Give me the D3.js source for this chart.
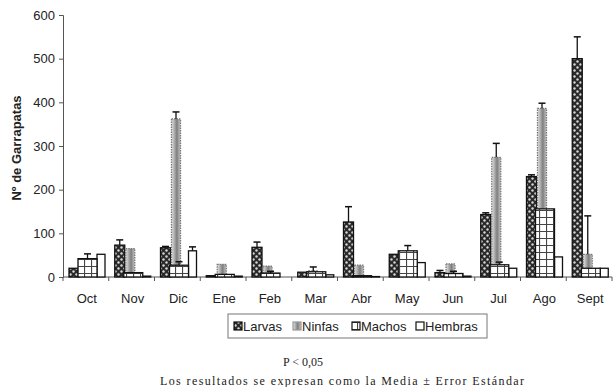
<!DOCTYPE html>
<html><head><meta charset="utf-8">
<script src="https://cdn.jsdelivr.net/npm/d3@7"></script>
<style>body{margin:0;background:#fff}svg{display:block}</style>
</head><body>
<svg id="c" width="613" height="387"></svg>
<script>
const months = ["Oct","Nov","Dic","Ene","Feb","Mar","Abr","May","Jun","Jul","Ago","Sept"];
const larvas     = [20, 73, 67, 3, 68, 11, 126, 52, 10, 143, 230, 500];
const larvasErr  = [0, 12, 3, 0, 12, 0, 35, 0, 5, 4, 4, 50];
const ninfas     = [0, 65, 362, 29, 25, 14, 27, 0, 30, 274, 386, 52];
const ninfasErr  = [0, 0, 16, 0, 0, 9, 0, 0, 0, 32, 12, 88];
const machos     = [42, 10, 27, 6, 9, 12, 3, 60, 8, 28, 156, 20];
const machosErr  = [11, 0, 8, 0, 4, 0, 0, 12, 5, 6, 0, 0];
const hembras    = [52, 2, 60, 2, 0, 5, 1, 33, 2, 20, 46, 20];
const hembrasErr = [0, 0, 9, 0, 0, 0, 0, 0, 0, 0, 0, 0];
const yTicks = [0,100,200,300,400,500,600];
const seriesNames = ["Larvas","Ninfas","Machos","Hembras"];

const svg = d3.select("#c");
const defs = svg.append("defs");
const pL = defs.append("pattern").attr("id","pL").attr("width",6).attr("height",6).attr("patternUnits","userSpaceOnUse");
pL.append("rect").attr("width",6).attr("height",6).attr("fill","#2a2a2a");
pL.append("circle").attr("cx",1.5).attr("cy",1.5).attr("r",1.2).attr("fill","#d8d8d8");
pL.append("circle").attr("cx",4.5).attr("cy",4.5).attr("r",1.2).attr("fill","#d8d8d8");
const gN = defs.append("linearGradient").attr("id","gN").attr("x1","0").attr("x2","1").attr("y1","0").attr("y2","0");
[[0,"#e6e6e6"],[0.3,"#b0b0b0"],[0.6,"#7e7e7e"],[1,"#c8c8c8"]].forEach(s=>gN.append("stop").attr("offset",s[0]).attr("stop-color",s[1]));
const pM = defs.append("pattern").attr("id","pM").attr("width",7).attr("height",7).attr("patternUnits","userSpaceOnUse");
pM.append("rect").attr("width",7).attr("height",7).attr("fill","#fff");
pM.append("path").attr("d","M0,0.5H7M0.5,0V7").attr("stroke","#444").attr("stroke-width",1.2);

const x = d3.scaleBand().domain(months).range([63, 612]).padding(0);
const y = d3.scaleLinear().domain([0,600]).range([277, 15]);

const ya = svg.append("g").attr("transform","translate(63,0)")
  .call(d3.axisLeft(y).tickValues(yTicks).tickSize(4).tickPadding(4));
ya.selectAll("text").attr("font-family","Liberation Sans, Arial").attr("font-size",13).attr("fill","#222");
ya.select(".domain").attr("stroke","#555");
ya.selectAll(".tick line").attr("stroke","#555");

const xa = svg.append("g").attr("transform","translate(0,277)");
xa.append("line").attr("x1",63).attr("x2",612).attr("y1",0).attr("y2",0).attr("stroke","#555");
xa.selectAll("line.t").data(months.concat(["_end"])).enter().append("line").attr("class","t")
  .attr("x1",(d,i)=>63+i*x.bandwidth()).attr("x2",(d,i)=>63+i*x.bandwidth())
  .attr("y1",0).attr("y2",4).attr("stroke","#555");
xa.selectAll("text").data(months).enter().append("text")
  .attr("x",d=>x(d)+x.bandwidth()/2+1).attr("y",26).attr("text-anchor","middle")
  .attr("font-family","Liberation Sans, Arial").attr("font-size",13).attr("fill","#222").text(d=>d);

svg.append("text").attr("transform","translate(21,148) rotate(-90)").attr("text-anchor","middle")
  .attr("font-family","Liberation Sans, Arial").attr("font-size",13).attr("font-weight","bold").attr("fill","#222")
  .text("Nº de Garrapatas");

const bw = x.bandwidth();
const specs = [
  {vals:larvas, err:larvasErr, off:6/45.75, w:10/45.75, fill:"url(#pL)", stroke:"#111", dash:null},
  {vals:ninfas, err:ninfasErr, off:17/45.75, w:9/45.75, fill:"url(#gN)", stroke:"#777", dash:"1.5,1"},
  {vals:hembras, err:hembrasErr, off:34/45.75, w:8/45.75, fill:"#fff", stroke:"#111", dash:null},
  {vals:machos, err:machosErr, off:15/45.75, w:19/45.75, fill:"url(#pM)", stroke:"#111", dash:null}
];
specs.forEach(s=>{
  const g = svg.append("g");
  const data = months.map((m,i)=>({m, v:s.vals[i], e:s.err[i]}));
  g.selectAll("rect").data(data.filter(d=>d.v>0)).enter().append("rect")
    .attr("x",d=>x(d.m)+s.off*bw).attr("width",s.w*bw)
    .attr("y",d=>y(d.v)).attr("height",d=>y(0)-y(d.v))
    .attr("fill",s.fill).attr("stroke",s.stroke).attr("stroke-width",1.3)
    .attr("stroke-dasharray",s.dash);
  const eg = g.selectAll("g.e").data(data.filter(d=>d.e>0)).enter().append("g");
  const cx = d=>x(d.m)+(s.off+s.w/2)*bw;
  eg.append("line").attr("x1",cx).attr("x2",cx).attr("y1",d=>y(d.v)).attr("y2",d=>y(d.v+d.e)).attr("stroke","#111").attr("stroke-width",1.3);
  eg.append("line").attr("x1",d=>cx(d)-3.5).attr("x2",d=>cx(d)+3.5).attr("y1",d=>y(d.v+d.e)).attr("y2",d=>y(d.v+d.e)).attr("stroke","#111").attr("stroke-width",1.5);
});

const lg = svg.append("g");
lg.append("rect").attr("x",228).attr("y",314).attr("width",259).attr("height",24).attr("fill","#fff").attr("stroke","#777");
const lx = [234, 293, 352, 416];
const lfill = ["url(#pL)","url(#gN)","url(#pM)","#fff"];
seriesNames.forEach((n,i)=>{
  lg.append("rect").attr("x",lx[i]).attr("y",322).attr("width",8).attr("height",8)
    .attr("fill",lfill[i]).attr("stroke",i==1?"#999":"#111").attr("stroke-width",1.2);
  lg.append("text").attr("x",lx[i]+9).attr("y",331).attr("font-family","Liberation Sans, Arial")
    .attr("font-size",13).attr("fill","#222").text(n);
});

svg.append("text").attr("x",303).attr("y",366).attr("text-anchor","middle")
  .attr("font-family","Liberation Serif, Times New Roman").attr("font-size",12).attr("fill","#222").text("P < 0,05");
svg.append("text").attr("x",160).attr("y",385).attr("textLength",364).attr("lengthAdjust","spacing")
  .attr("font-family","Liberation Serif, Times New Roman").attr("font-size",12).attr("fill","#222")
  .text("Los resultados se expresan como la Media  ± Error Estándar");
</script>
</body></html>
